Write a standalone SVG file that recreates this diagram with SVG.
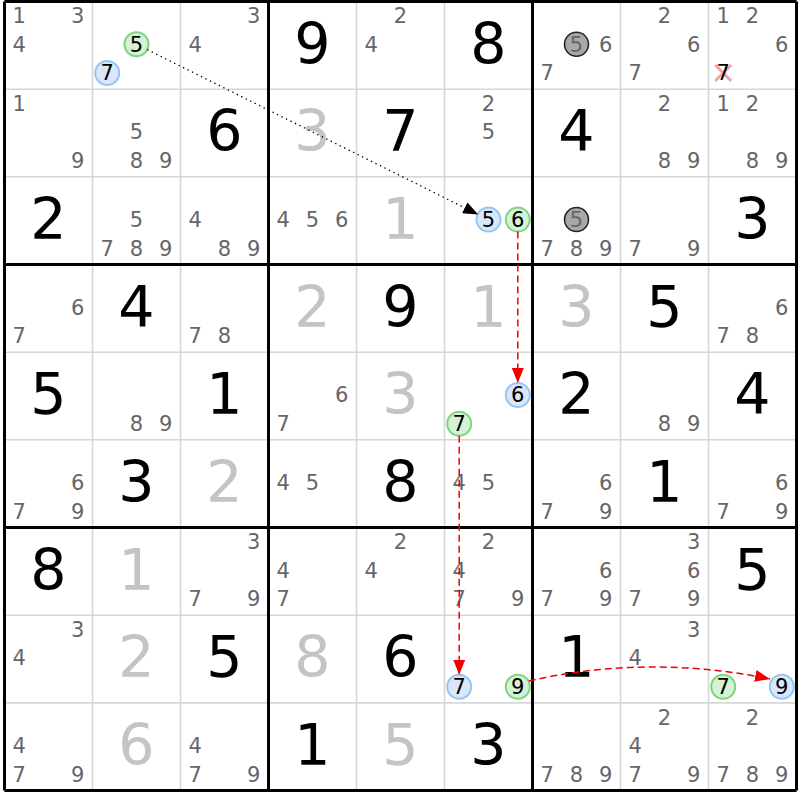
<svg xmlns="http://www.w3.org/2000/svg" width="800" height="800" viewBox="0 0 800 800">
<style>
text{font-family:"DejaVu Sans","Liberation Sans",sans-serif;text-anchor:middle}
.c{font-size:21px;fill:#666}
.h{font-size:21px;fill:#000}
.g{font-size:57px;fill:#000}
.s{font-size:57px;fill:#c4c4c4}
.thin{stroke:#d6d6d6;stroke-width:1.6;fill:none}
.thick{stroke:#000;stroke-width:3;fill:none}
.cg{fill:#d4f2d4;stroke:#82d282;stroke-width:2}
.cb{fill:#d8e8fa;stroke:#98c4f4;stroke-width:2}
.cx{fill:#a8a8a8;stroke:#222;stroke-width:1.5}
.dot{stroke:#000;stroke-width:1.3;stroke-dasharray:1.4 3.6;fill:none}
.red{stroke:#f00000;stroke-width:1.5;stroke-dasharray:7 4;fill:none}
</style>
<defs>
<marker id="ab" markerUnits="userSpaceOnUse" markerWidth="16" markerHeight="12" refX="15" refY="6" orient="auto"><path d="M0,0 L15,6 L0,12 z" fill="#000"/></marker>
<marker id="ar" markerUnits="userSpaceOnUse" markerWidth="16" markerHeight="12" refX="15" refY="6" orient="auto"><path d="M0,0 L15,6 L0,12 z" fill="#f00000"/></marker>
</defs>
<rect x="0" y="0" width="800" height="800" fill="#fff"/>
<g id="grid">
<path class="thin" d="M92.5,1.5V790.5M180.5,1.5V790.5M356.5,1.5V790.5M444.5,1.5V790.5M620.5,1.5V790.5M708.5,1.5V790.5M4.5,89.2H796.5M4.5,176.8H796.5M4.5,352.2H796.5M4.5,439.8H796.5M4.5,615.2H796.5M4.5,702.9H796.5"/>
<path class="thick" d="M4.5,1.5V790.5M268.5,1.5V790.5M532.5,1.5V790.5M796.5,1.5V790.5M4.5,1.5H796.5M4.5,264.5H796.5M4.5,527.5H796.5M4.5,790.5H796.5"/>
</g>
<g id="r0c0"><text class="c" x="19.2" y="23.1">1</text><text class="c" x="77.8" y="23.1">3</text><text class="c" x="19.2" y="51.6">4</text></g>
<g id="r0c1"><circle class="cg" cx="136.5" cy="44.3" r="12"/><text class="h" x="136.5" y="51.6">5</text><circle class="cb" cx="107.2" cy="73" r="12"/><text class="h" x="107.2" y="80.3">7</text></g>
<g id="r0c2"><text class="c" x="253.8" y="23.1">3</text><text class="c" x="195.2" y="51.6">4</text></g>
<g id="r0c3"><text class="g" x="312.5" y="63.5">9</text></g>
<g id="r0c4"><text class="c" x="400.5" y="23.1">2</text><text class="c" x="371.2" y="51.6">4</text></g>
<g id="r0c5"><text class="g" x="488.5" y="63.5">8</text></g>
<g id="r0c6"><circle class="cx" cx="576.5" cy="44.3" r="12"/><text class="c" x="576.5" y="51.6">5</text><text class="c" x="605.8" y="51.6">6</text><text class="c" x="547.2" y="80.3">7</text></g>
<g id="r0c7"><text class="c" x="664.5" y="23.1">2</text><text class="c" x="693.8" y="51.6">6</text><text class="c" x="635.2" y="80.3">7</text></g>
<g id="r0c8"><text class="c" x="723.2" y="23.1">1</text><text class="c" x="752.5" y="23.1">2</text><text class="c" x="781.8" y="51.6">6</text><path d="M715.2,65L731.2,81M731.2,65L715.2,81" stroke="#f4a0aa" stroke-width="3"/><text class="h" x="723.2" y="80.3">7</text></g>
<g id="r1c0"><text class="c" x="19.2" y="110.8">1</text><text class="c" x="77.8" y="168">9</text></g>
<g id="r1c1"><text class="c" x="136.5" y="139.3">5</text><text class="c" x="136.5" y="168">8</text><text class="c" x="165.8" y="168">9</text></g>
<g id="r1c2"><text class="g" x="224.5" y="151.2">6</text></g>
<g id="r1c3"><text class="s" x="312.5" y="151.2">3</text></g>
<g id="r1c4"><text class="g" x="400.5" y="151.2">7</text></g>
<g id="r1c5"><text class="c" x="488.5" y="110.8">2</text><text class="c" x="488.5" y="139.3">5</text></g>
<g id="r1c6"><text class="g" x="576.5" y="151.2">4</text></g>
<g id="r1c7"><text class="c" x="664.5" y="110.8">2</text><text class="c" x="664.5" y="168">8</text><text class="c" x="693.8" y="168">9</text></g>
<g id="r1c8"><text class="c" x="723.2" y="110.8">1</text><text class="c" x="752.5" y="110.8">2</text><text class="c" x="752.5" y="168">8</text><text class="c" x="781.8" y="168">9</text></g>
<g id="r2c0"><text class="g" x="48.5" y="238.8">2</text></g>
<g id="r2c1"><text class="c" x="136.5" y="226.9">5</text><text class="c" x="107.2" y="255.6">7</text><text class="c" x="136.5" y="255.6">8</text><text class="c" x="165.8" y="255.6">9</text></g>
<g id="r2c2"><text class="c" x="195.2" y="226.9">4</text><text class="c" x="224.5" y="255.6">8</text><text class="c" x="253.8" y="255.6">9</text></g>
<g id="r2c3"><text class="c" x="283.2" y="226.9">4</text><text class="c" x="312.5" y="226.9">5</text><text class="c" x="341.8" y="226.9">6</text></g>
<g id="r2c4"><text class="s" x="400.5" y="238.8">1</text></g>
<g id="r2c5"><circle class="cb" cx="488.5" cy="219.6" r="12"/><text class="h" x="488.5" y="226.9">5</text><circle class="cg" cx="517.8" cy="219.6" r="12"/><text class="h" x="517.8" y="226.9">6</text></g>
<g id="r2c6"><circle class="cx" cx="576.5" cy="219.6" r="12"/><text class="c" x="576.5" y="226.9">5</text><text class="c" x="547.2" y="255.6">7</text><text class="c" x="576.5" y="255.6">8</text><text class="c" x="605.8" y="255.6">9</text></g>
<g id="r2c7"><text class="c" x="635.2" y="255.6">7</text><text class="c" x="693.8" y="255.6">9</text></g>
<g id="r2c8"><text class="g" x="752.5" y="238.8">3</text></g>
<g id="r3c0"><text class="c" x="77.8" y="314.6">6</text><text class="c" x="19.2" y="343.3">7</text></g>
<g id="r3c1"><text class="g" x="136.5" y="326.5">4</text></g>
<g id="r3c2"><text class="c" x="195.2" y="343.3">7</text><text class="c" x="224.5" y="343.3">8</text></g>
<g id="r3c3"><text class="s" x="312.5" y="326.5">2</text></g>
<g id="r3c4"><text class="g" x="400.5" y="326.5">9</text></g>
<g id="r3c5"><text class="s" x="488.5" y="326.5">1</text></g>
<g id="r3c6"><text class="s" x="576.5" y="326.5">3</text></g>
<g id="r3c7"><text class="g" x="664.5" y="326.5">5</text></g>
<g id="r3c8"><text class="c" x="781.8" y="314.6">6</text><text class="c" x="723.2" y="343.3">7</text><text class="c" x="752.5" y="343.3">8</text></g>
<g id="r4c0"><text class="g" x="48.5" y="414.2">5</text></g>
<g id="r4c1"><text class="c" x="136.5" y="431">8</text><text class="c" x="165.8" y="431">9</text></g>
<g id="r4c2"><text class="g" x="224.5" y="414.2">1</text></g>
<g id="r4c3"><text class="c" x="341.8" y="402.3">6</text><text class="c" x="283.2" y="431">7</text></g>
<g id="r4c4"><text class="s" x="400.5" y="414.2">3</text></g>
<g id="r4c5"><circle class="cb" cx="517.8" cy="395" r="12"/><text class="h" x="517.8" y="402.3">6</text><circle class="cg" cx="459.2" cy="423.7" r="12"/><text class="h" x="459.2" y="431">7</text></g>
<g id="r4c6"><text class="g" x="576.5" y="414.2">2</text></g>
<g id="r4c7"><text class="c" x="664.5" y="431">8</text><text class="c" x="693.8" y="431">9</text></g>
<g id="r4c8"><text class="g" x="752.5" y="414.2">4</text></g>
<g id="r5c0"><text class="c" x="77.8" y="489.9">6</text><text class="c" x="19.2" y="518.6">7</text><text class="c" x="77.8" y="518.6">9</text></g>
<g id="r5c1"><text class="g" x="136.5" y="501.8">3</text></g>
<g id="r5c2"><text class="s" x="224.5" y="501.8">2</text></g>
<g id="r5c3"><text class="c" x="283.2" y="489.9">4</text><text class="c" x="312.5" y="489.9">5</text></g>
<g id="r5c4"><text class="g" x="400.5" y="501.8">8</text></g>
<g id="r5c5"><text class="c" x="459.2" y="489.9">4</text><text class="c" x="488.5" y="489.9">5</text></g>
<g id="r5c6"><text class="c" x="605.8" y="489.9">6</text><text class="c" x="547.2" y="518.6">7</text><text class="c" x="605.8" y="518.6">9</text></g>
<g id="r5c7"><text class="g" x="664.5" y="501.8">1</text></g>
<g id="r5c8"><text class="c" x="781.8" y="489.9">6</text><text class="c" x="723.2" y="518.6">7</text><text class="c" x="781.8" y="518.6">9</text></g>
<g id="r6c0"><text class="g" x="48.5" y="589.5">8</text></g>
<g id="r6c1"><text class="s" x="136.5" y="589.5">1</text></g>
<g id="r6c2"><text class="c" x="253.8" y="549.1">3</text><text class="c" x="195.2" y="606.3">7</text><text class="c" x="253.8" y="606.3">9</text></g>
<g id="r6c3"><text class="c" x="283.2" y="577.6">4</text><text class="c" x="283.2" y="606.3">7</text></g>
<g id="r6c4"><text class="c" x="400.5" y="549.1">2</text><text class="c" x="371.2" y="577.6">4</text></g>
<g id="r6c5"><text class="c" x="488.5" y="549.1">2</text><text class="c" x="459.2" y="577.6">4</text><text class="c" x="459.2" y="606.3">7</text><text class="c" x="517.8" y="606.3">9</text></g>
<g id="r6c6"><text class="c" x="605.8" y="577.6">6</text><text class="c" x="547.2" y="606.3">7</text><text class="c" x="605.8" y="606.3">9</text></g>
<g id="r6c7"><text class="c" x="693.8" y="549.1">3</text><text class="c" x="693.8" y="577.6">6</text><text class="c" x="635.2" y="606.3">7</text><text class="c" x="693.8" y="606.3">9</text></g>
<g id="r6c8"><text class="g" x="752.5" y="589.5">5</text></g>
<g id="r7c0"><text class="c" x="77.8" y="636.8">3</text><text class="c" x="19.2" y="665.3">4</text></g>
<g id="r7c1"><text class="s" x="136.5" y="677.2">2</text></g>
<g id="r7c2"><text class="g" x="224.5" y="677.2">5</text></g>
<g id="r7c3"><text class="s" x="312.5" y="677.2">8</text></g>
<g id="r7c4"><text class="g" x="400.5" y="677.2">6</text></g>
<g id="r7c5"><circle class="cb" cx="459.2" cy="686.7" r="12"/><text class="h" x="459.2" y="694">7</text><circle class="cg" cx="517.8" cy="686.7" r="12"/><text class="h" x="517.8" y="694">9</text></g>
<g id="r7c6"><text class="g" x="576.5" y="677.2">1</text></g>
<g id="r7c7"><text class="c" x="693.8" y="636.8">3</text><text class="c" x="635.2" y="665.3">4</text></g>
<g id="r7c8"><circle class="cg" cx="723.2" cy="686.7" r="12"/><text class="h" x="723.2" y="694">7</text><circle class="cb" cx="781.8" cy="686.7" r="12"/><text class="h" x="781.8" y="694">9</text></g>
<g id="r8c0"><text class="c" x="19.2" y="753">4</text><text class="c" x="19.2" y="781.7">7</text><text class="c" x="77.8" y="781.7">9</text></g>
<g id="r8c1"><text class="s" x="136.5" y="764.9">6</text></g>
<g id="r8c2"><text class="c" x="195.2" y="753">4</text><text class="c" x="195.2" y="781.7">7</text><text class="c" x="253.8" y="781.7">9</text></g>
<g id="r8c3"><text class="g" x="312.5" y="764.9">1</text></g>
<g id="r8c4"><text class="s" x="400.5" y="764.9">5</text></g>
<g id="r8c5"><text class="g" x="488.5" y="764.9">3</text></g>
<g id="r8c6"><text class="c" x="547.2" y="781.7">7</text><text class="c" x="576.5" y="781.7">8</text><text class="c" x="605.8" y="781.7">9</text></g>
<g id="r8c7"><text class="c" x="664.5" y="724.5">2</text><text class="c" x="635.2" y="753">4</text><text class="c" x="635.2" y="781.7">7</text><text class="c" x="693.8" y="781.7">9</text></g>
<g id="r8c8"><text class="c" x="752.5" y="724.5">2</text><text class="c" x="723.2" y="781.7">7</text><text class="c" x="752.5" y="781.7">8</text><text class="c" x="781.8" y="781.7">9</text></g>
<g id="connectors">
<path class="dot" d="M147.2,49.6L478.2,214.5" marker-end="url(#ab)"/>
<path class="red" d="M517.8,231.6L517.8,383" marker-end="url(#ar)"/>
<path class="red" d="M459.2,435.7L459.2,674.7" marker-end="url(#ar)"/>
<path class="red" d="M528.8,681Q648,654 770,679" marker-end="url(#ar)"/>
</g>
</svg>
